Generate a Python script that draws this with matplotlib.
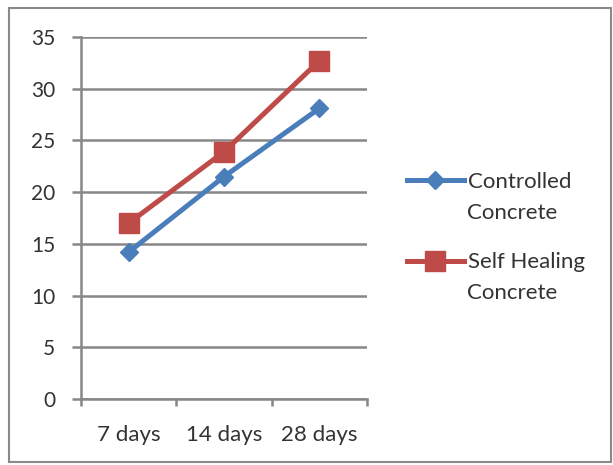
import matplotlib.pyplot as plt
from matplotlib.patches import Rectangle

# data
ages = ['7 days', '14 days', '28 days']
controlled = [14.2, 21.5, 28.1]
self_healing = [17.0, 23.9, 32.7]
# legend labels are split over two lines, handle sits next to the first line
names_top = ['Controlled', 'Self Healing']
names_bottom = ['Concrete', 'Concrete']

plt.rcParams['font.family'] = ['Lato', 'DejaVu Sans']
grey = '#878787'
txt = '#333333'

fig = plt.figure(figsize=(6.13, 4.65), dpi=100)
ax = fig.add_axes([81/613, 66/465, 286/613, 362/465])

x = range(len(ages))
ax.plot(x, controlled, color='#4a7ebb', lw=3.6, marker='D', ms=9,
        label=names_top[0], zorder=3)
ax.plot(x, self_healing, color='#be4b48', lw=3.6, marker='s', ms=14,
        label=names_top[1], zorder=3)

ax.set_xlim(-0.5, len(ages) - 0.5)
ax.set_ylim(0, 35)
ax.set_yticks(range(0, 36, 5))
ax.set_xticks(list(x))
ax.set_xticklabels(ages)
ax.set_xticks([i - 0.5 for i in range(len(ages) + 1)], minor=True)

ax.yaxis.grid(True, color=grey, lw=1.8)
ax.set_axisbelow(True)
for s in ['top', 'right']:
    ax.spines[s].set_visible(False)
for s in ['left', 'bottom']:
    ax.spines[s].set_color(grey)
    ax.spines[s].set_linewidth(1.8)

ax.tick_params(axis='y', length=6.5, width=1.8, color=grey, labelsize=15,
               labelcolor=txt, pad=12)
ax.tick_params(axis='x', which='major', length=0, labelsize=16,
               labelcolor=txt, pad=19)
ax.tick_params(axis='x', which='minor', length=5, width=1.8, color=grey)

fig.legend(loc='upper left', bbox_to_anchor=(407/613, (465-172)/465),
           frameon=False, fontsize=16, handlelength=2.55, handletextpad=0.18,
           labelspacing=2.72, borderpad=0, borderaxespad=0, labelcolor=txt)
for name, ymid in zip(names_bottom, [213, 293]):
    fig.text(467/613, (465-ymid)/465, name, fontsize=16, color=txt,
             va='center', ha='left')

# outer frame
fig.patches.append(Rectangle((9/613, 3/465), 602/613, 454/465,
                             transform=fig.transFigure, fill=False,
                             edgecolor='#8a8a8a', lw=1.5))

fig.savefig('out.png', dpi=100)
